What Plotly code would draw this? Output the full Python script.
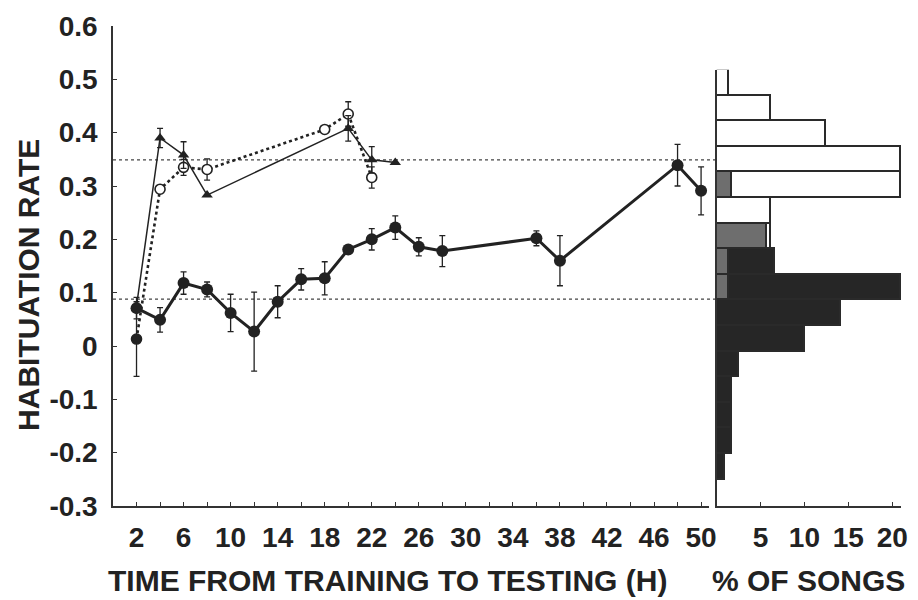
import plotly.graph_objects as go

# ---------------- data ----------------
hours_main = [2, 4, 6, 8, 10, 12, 14, 16, 18, 20, 22, 24, 26, 28, 36, 38, 48, 50]
rate_main = [0.071, 0.049, 0.118, 0.106, 0.062, 0.027, 0.083, 0.125, 0.127,
             0.181, 0.200, 0.222, 0.186, 0.178, 0.202, 0.160, 0.339, 0.291]
err_main = [0.020, 0.023, 0.021, 0.014, 0.035, 0.074, 0.030, 0.020, 0.031,
            0.005, 0.020, 0.022, 0.017, 0.029, 0.014, 0.047, 0.039, 0.045]

hours_tri = [2, 4, 6, 8, 20, 22, 24]
rate_tri = [0.075, 0.390, 0.358, 0.283, 0.408, 0.349, 0.344]
err_tri = [0.0, 0.018, 0.025, 0.0, 0.024, 0.025, 0.0]

hours_open = [2, 4, 6, 8, 18, 20, 22]
rate_open = [0.013, 0.294, 0.335, 0.331, 0.406, 0.435, 0.316]
err_open = [0.070, 0.0, 0.015, 0.020, 0.0, 0.023, 0.020]

ref_levels = [0.349, 0.088]

# histogram (% of songs), bins of habituation rate
bin_centers = [-0.226, -0.178, -0.130, -0.082, -0.034, 0.014, 0.062, 0.110,
               0.158, 0.206, 0.254, 0.302, 0.350, 0.398, 0.446, 0.494]
pct_gray = [None, None, None, None, None, None, None, 1.4,
            1.4, 5.7, None, 1.7, None, None, None, None]
pct_black = [0.9, 1.7, 1.7, 1.7, 2.5, 10.0, 14.1, 19.5,
             5.2, None, None, None, None, None, None, None]
pct_white = [None, None, None, None, None, None, None, None,
             None, 0.5, 6.2, 19.2, 20.9, 12.4, 6.2, 1.4]

x_ticks = [2, 6, 10, 14, 18, 22, 26, 30, 34, 38, 42, 46, 50]
y_ticks = [-0.3, -0.2, -0.1, 0, 0.1, 0.2, 0.3, 0.4, 0.5, 0.6]
y_ticktext = ["-0.3", "-0.2", "-0.1", "0", "0.1", "0.2", "0.3", "0.4", "0.5", "0.6"]
pct_ticks = [5, 10, 15, 20]

# ---------------- styles ----------------
FONT = "Liberation Sans"
INK = "#222222"
AX = "#333333"

fig = go.Figure()

# reference dotted levels
for lv in ref_levels:
    fig.add_shape(type="line", xref="paper", yref="y", x0=0, x1=0.766, y0=lv, y1=lv,
                  line=dict(color="#444444", width=1.3, dash="dot"), layer="below")

# open-circle dotted series
fig.add_trace(go.Scatter(
    x=hours_open, y=rate_open, mode="lines+markers",
    line=dict(color=INK, width=2.6, dash="dot"),
    marker=dict(symbol="circle", size=10,
                color=[INK, "white", "white", "white", "white", "white", "white"],
                line=dict(color=INK, width=1.6)),
    error_y=dict(type="data", array=err_open, color=INK, thickness=1.3, width=3),
))

# triangle thin solid series
fig.add_trace(go.Scatter(
    x=hours_tri, y=rate_tri, mode="lines+markers",
    line=dict(color=INK, width=1.5),
    marker=dict(symbol="triangle-up", size=10, color=INK),
    error_y=dict(type="data", array=err_tri, color=INK, thickness=1.3, width=3),
))

# main filled-circle series
fig.add_trace(go.Scatter(
    x=hours_main, y=rate_main, mode="lines+markers",
    line=dict(color=INK, width=3),
    marker=dict(symbol="circle", size=12, color=INK),
    error_y=dict(type="data", array=err_main, color=INK, thickness=1.3, width=3),
))

# histogram
for vals, col in [(pct_gray, "#6e6e6e"), (pct_black, "#262626"), (pct_white, "#ffffff")]:
    fig.add_trace(go.Bar(
        y=bin_centers, x=vals, orientation="h", width=0.048,
        marker=dict(color=col, line=dict(color="#2a2a2a", width=1.5)),
        xaxis="x2", yaxis="y2",
    ))

tickfont = dict(family=FONT, size=28, color=INK, weight="bold")

fig.update_layout(
    width=918, height=600,
    margin=dict(l=113, r=9, t=26, b=94),
    paper_bgcolor="white", plot_bgcolor="white",
    showlegend=False, barmode="stack", bargap=0,
    xaxis=dict(domain=[0, 0.7563], range=[0, 50.67], tickmode="array", tickvals=x_ticks,
               ticks="inside", ticklen=4, tickwidth=1.2, tickcolor=AX,
               minor=dict(tick0=0, dtick=2, ticks="inside", ticklen=4, tickwidth=1.2, tickcolor=AX),
               showline=True, linecolor=AX, linewidth=1.5, showgrid=False, zeroline=False,
               tickfont=tickfont, ticklabelstandoff=6),
    yaxis=dict(domain=[0, 1], range=[-0.3, 0.6], tickmode="array", tickvals=y_ticks,
               ticktext=y_ticktext, ticks="inside", ticklen=4, tickwidth=1.2, tickcolor=AX,
               showline=True, linecolor=AX, linewidth=1.5, showgrid=False, zeroline=False,
               tickfont=tickfont, ticklabelstandoff=8),
    xaxis2=dict(domain=[0.766, 1], range=[0, 21], anchor="y2", tickmode="array",
                tickvals=pct_ticks, ticks="inside", ticklen=4, tickwidth=1.2, tickcolor=AX,
                showline=True, linecolor=AX, linewidth=1.5, showgrid=False, zeroline=False,
                tickfont=tickfont, ticklabelstandoff=6),
    yaxis2=dict(domain=[0, 0.909], range=[-0.3, 0.518], anchor="x2",
                showticklabels=False, ticks="", showline=True, linecolor=AX,
                linewidth=1.5, showgrid=False, zeroline=False),
)

title_font = dict(family=FONT, size=30, color=INK, weight="bold")
fig.add_annotation(text="HABITUATION RATE", xref="paper", yref="paper",
                   x=-0.108, y=0.4604, textangle=-90, showarrow=False,
                   font=title_font, xanchor="center", yanchor="middle")
fig.add_annotation(text="TIME FROM TRAINING TO TESTING (H)", xref="paper", yref="paper",
                   x=0.348, y=-0.156, showarrow=False, font=title_font,
                   xanchor="center", yanchor="middle")
fig.add_annotation(text="% OF SONGS", xref="paper", yref="paper",
                   x=0.883, y=-0.156, showarrow=False, font=title_font,
                   xanchor="center", yanchor="middle")

fig.write_html(
    "out.html",
    config={"displayModeBar": False},
    post_script=("document.documentElement.style.margin='0px';"
                 "document.body.style.margin='0px';"
                 "document.documentElement.style.overflow='hidden';"
                 "document.body.style.overflow='hidden';"),
)
